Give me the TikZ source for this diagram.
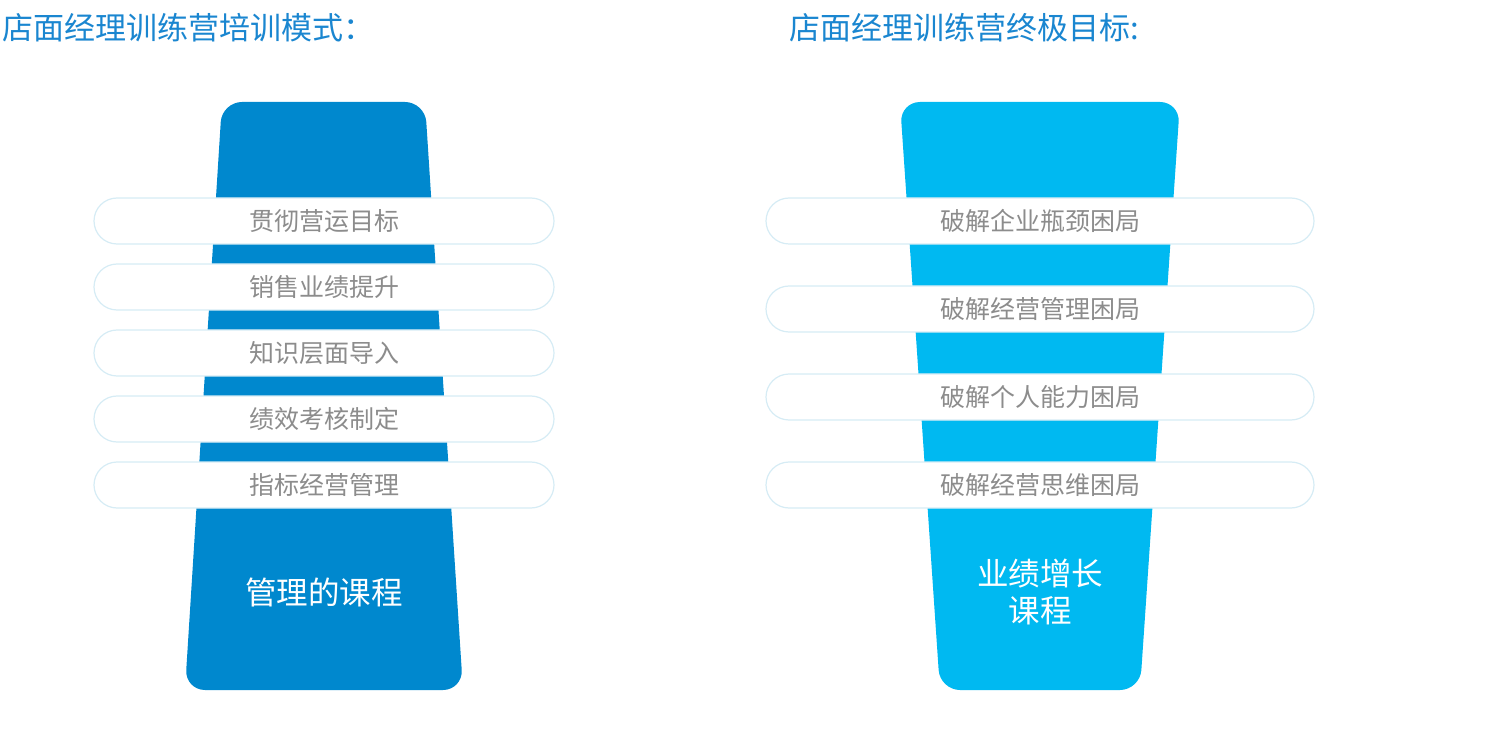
\documentclass[tikz,border=0pt]{standalone}
\usepackage{fontspec}
\setmainfont{Noto Sans CJK SC}
\usetikzlibrary{positioning}

\definecolor{titleblue}{HTML}{1A86D0}
\definecolor{cupdark}{HTML}{0088CE}
\definecolor{cuplight}{HTML}{00B9F1}
\definecolor{pillline}{HTML}{D6ECF5}
\definecolor{pilltext}{HTML}{8C8C8C}

\tikzset{
  pill/.style={draw=pillline, line width=1.2pt, fill=white, rounded corners=23pt,
    minimum width=460pt, minimum height=46pt, inner sep=0pt,
    text=pilltext, font=\fontsize{25}{29}\selectfont},
  title/.style={anchor=west, text=titleblue, inner sep=0pt, font=\fontsize{31}{36}\selectfont},
  cuplabel/.style={text=white, align=center, inner sep=0pt, font=\fontsize{31.5}{37}\selectfont}
}

\begin{document}
\begin{tikzpicture}[x=1pt,y=-1pt]
\useasboundingbox (0,0) rectangle (1500,751);
% titles
\node[title] (tl) at (2,28) {店面经理训练营培训模式：};
\node[title] (tr) at (789,28) {店面经理训练营终极目标:};
% the two cups
\fill[cupdark, rounded corners=20pt] (185,690) -- (222,102) -- (425,102) -- (463,690) -- cycle;
\fill[cuplight, rounded corners=20pt] (940,690) -- (900,102) -- (1180,102) -- (1140,690) -- cycle;
% left pills
\foreach \t [count=\i] in {贯彻营运目标,销售业绩提升,知识层面导入,绩效考核制定,指标经营管理}
  \node[pill] (l\i) at (324,{155+66*\i}) {\t};
% right pills
\foreach \t [count=\i] in {破解企业瓶颈困局,破解经营管理困局,破解个人能力困局,破解经营思维困局}
  \node[pill, minimum width=548pt] (r\i) at (1040,{133+88*\i}) {\t};
% labels in the cups
\node[cuplabel] (lc) at (324,592) {管理的课程};
\node[cuplabel] (rc) at (1040,592) {业绩增长\\课程};
\end{tikzpicture}
\end{document}
